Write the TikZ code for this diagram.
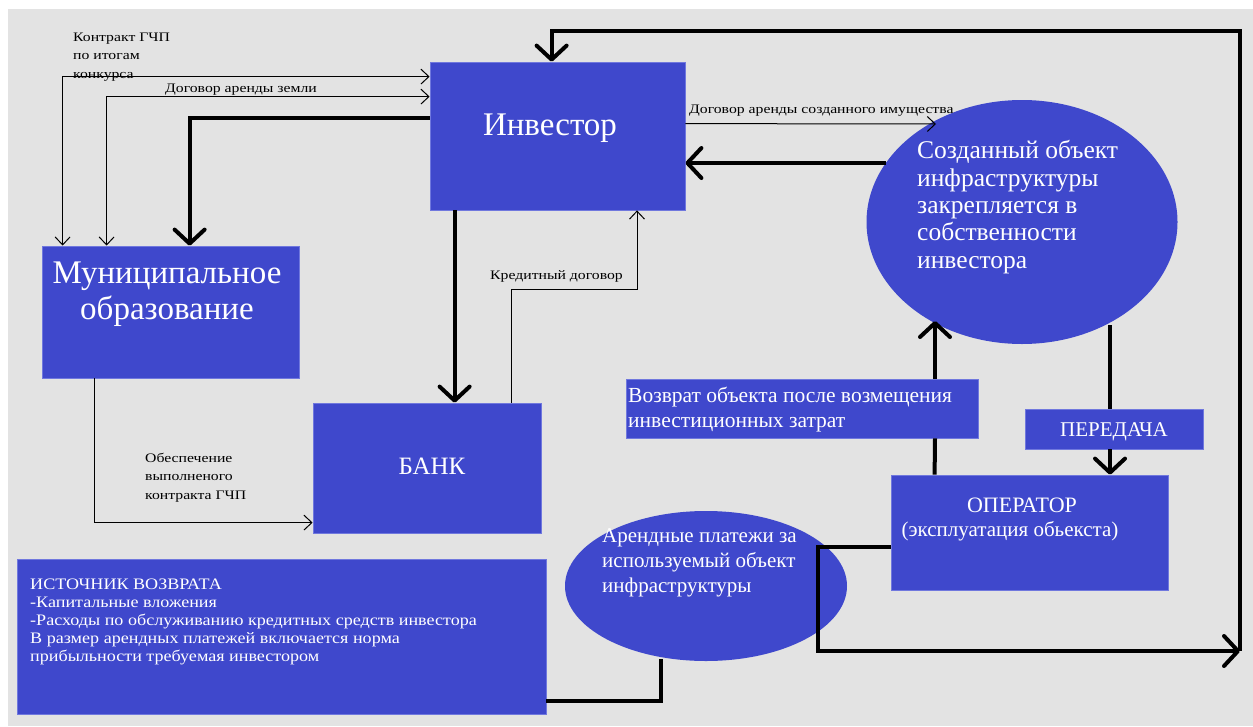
\documentclass[tikz,border=0pt]{standalone}
\usepackage{fontspec}
\setmainfont{Liberation Serif}
\newfontfamily\lblfont[FakeStretch=1.21]{Liberation Serif}
\newfontfamily\srcfont[FakeStretch=1.13]{Liberation Serif}
\usetikzlibrary{shapes.geometric,arrows.meta}
\definecolor{boxblue}{RGB}{63,72,204}
\definecolor{boxedge}{RGB}{112,120,222}
\definecolor{bggray}{RGB}{227,227,227}
\begin{document}
\begin{tikzpicture}[x=1pt,y=-1pt,
  box/.style={rectangle,fill=boxblue,draw=boxedge,line width=0.8pt,inner sep=0pt,anchor=center},
  oval/.style={ellipse,fill=boxblue,inner sep=0pt,anchor=center},
  wtext/.style={text=white,inner sep=0pt,anchor=base},
  wleft/.style={text=white,inner sep=0pt,anchor=base west,align=left},
  lbl/.style={text=black,inner sep=0pt,anchor=base west,align=left,font=\lblfont\fontsize{13}{18.5}\selectfont},
  tarr/.style={line width=1pt,draw=black,-{Straight Barb[length=8pt,width=15pt]}},
  tboth/.style={line width=1pt,draw=black,{Straight Barb[length=8pt,width=15pt]}-{Straight Barb[length=8pt,width=15pt]}},
  thk/.style={line width=4pt,draw=black},
  karr/.style={line width=4pt,draw=black,-{Straight Barb[length=14pt,width=30pt,round]}}
]
\useasboundingbox (0,0) rectangle (1253,726);
\fill[white] (0,0) rectangle (1253,726);
\fill[bggray] (8,9) rectangle (1253,726);

% shapes
\node[box,minimum width=255pt,minimum height=148pt] (inv) at (557.5,136) {};
\node[box,minimum width=257pt,minimum height=132pt] (mun) at (170.5,312) {};
\node[box,minimum width=228pt,minimum height=130pt] (bank) at (427,468) {};
\node[oval,minimum width=311pt,minimum height=244pt] (ell1) at (1022,222) {};
\node[box,minimum width=352pt,minimum height=59pt] (vozv) at (802,408.5) {};
\node[box,minimum width=178pt,minimum height=40pt] (per) at (1114,429) {};
\node[box,minimum width=277pt,minimum height=115pt] (oper) at (1029.5,532.5) {};
\node[oval,minimum width=282pt,minimum height=150pt] (ell2) at (706,586) {};
\node[box,minimum width=529pt,minimum height=155pt] (ist) at (281.5,636.5) {};

% texts in shapes (multi-line nodes: base = last line)
\node[wtext,font=\fontsize{33}{36}\selectfont] (invt) at (550,135) {Инвестор};
\node[wtext,align=center,font=\fontsize{33}{36}\selectfont] (munt) at (167,319) {Муниципальное\\образование};
\node[wtext,font=\fontsize{25}{28}\selectfont] (bankt) at (432,474) {БАНК};
\node[wleft,font=\fontsize{25.5}{27.3}\selectfont] (ell1t) at (917,268) {Созданный объект\\инфраструктуры\\закрепляется в\\собственности\\инвестора};
\node[wleft,font=\fontsize{21.5}{25}\selectfont] (vozvt) at (628,427) {Возврат объекта после возмещения\\инвестиционных затрат};
\node[wtext,font=\fontsize{21}{24}\selectfont] (pert) at (1114,436) {ПЕРЕДАЧА};
\node[wtext,font=\fontsize{22}{24}\selectfont] (opert) at (1022,512) {ОПЕРАТОР};
\node[wtext,font=\fontsize{21}{24}\selectfont] (opert2) at (1010,536) {(эксплуатация обьекста)};
\node[wleft,font=\fontsize{21}{25}\selectfont] (ell2t) at (602,592) {Арендные платежи за\\используемый объект\\инфраструктуры};
\node[wleft,font=\srcfont\fontsize{16}{18}\selectfont] (istt) at (30,661) {ИСТОЧНИК ВОЗВРАТА\\-Капитальные вложения\\-Расходы по обслуживанию кредитных средств инвестора\\В размер арендных платежей включается норма\\прибыльности требуемая инвестором};

% connectors
\draw[tboth] ([yshift=-15pt]inv.north west) -| ([xshift=21pt]mun.north west);
\draw[tboth] ([yshift=-35pt]inv.north west) -| ([xshift=65pt]mun.north west);
\draw[karr] ([yshift=-56pt]inv.north west) -| ([xshift=148pt]mun.north west);
\draw[karr] ([xshift=25pt]inv.south west) -- ([xshift=142pt]bank.north west);
\coordinate (kr) at (637,289);
\draw[tarr] ([xshift=199pt]bank.north west) |- (kr) -- (kr |- inv.south);
\draw[tarr] ([xshift=53pt]mun.south west) |- ([yshift=-120pt]bank.north west);
\coordinate (e1a) at (936,124);
\draw[tarr] ([yshift=-62pt]inv.north east) -- (e1a);
\coordinate (e1b) at (886,163);
\draw[karr] (e1b) -- (e1b -| inv.east);
\coordinate (e1c) at (935,321);
\draw[thk] ([xshift=44pt]oper.north west) -- (e1c |- vozv.south);
\draw[karr] (e1c |- vozv.north) -- (e1c);
\coordinate (e1d) at (1110,325);
\draw[thk] (e1d) -- (e1d |- per.north);
\draw[karr] (e1d |- per.south) -- (e1d |- oper.north);
\coordinate (lp) at (818,651);
\coordinate (rp) at (1240,651);
\draw[karr] ([yshift=-72pt]oper.north west) -| (lp) -- (rp);
\coordinate (tp) at (1240,31);
\draw[karr] (rp) -- (tp) -| ([xshift=122pt]inv.north west);
\coordinate (e2b) at (661,659);
\draw[thk] ([yshift=-142pt]ist.north east) -| (e2b);

% labels (multi-line: base = last line)
\node[lbl] (l1) at (73,78) {Контракт ГЧП\\по итогам\\конкурса};
\node[lbl] (l2) at (165,92) {Договор аренды земли};
\node[lbl] (l3) at (689,113) {Договор аренды созданного имущества};
\node[lbl] (l4) at (490,279) {Кредитный договор};
\node[lbl] (l5) at (145,499) {Обеспечение\\выполненого\\контракта ГЧП};
\end{tikzpicture}
\end{document}
